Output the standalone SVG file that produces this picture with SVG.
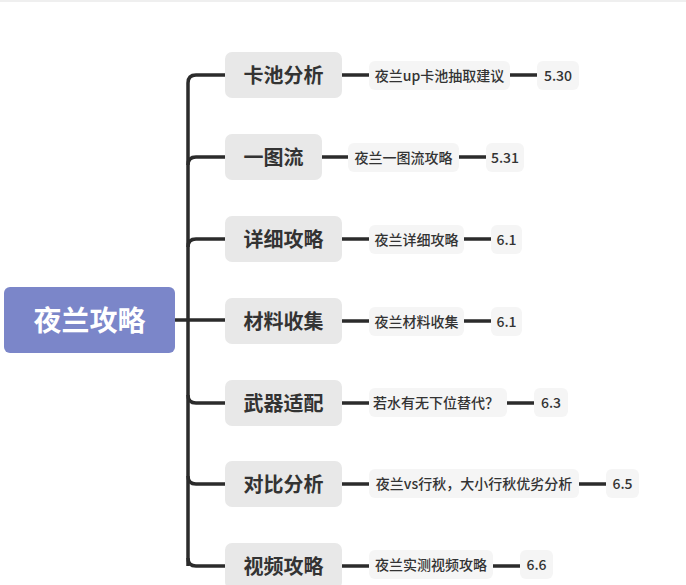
<svg xmlns="http://www.w3.org/2000/svg" width="686" height="585" viewBox="0 0 686 585">
<style>
.ln{fill:none;stroke:#2b2b2b;stroke-width:3.5;stroke-linecap:butt}
.l1 rect{fill:#e8e8e8}
.l2 rect{fill:#f5f5f5}
text{font-family:"Noto Sans CJK SC","Noto Sans",sans-serif;fill:#333;text-anchor:middle;dominant-baseline:central}
.l1 text{font-size:20px;font-weight:700}
.l2 text{font-size:14px;font-weight:500}
.root text{font-size:28px;font-weight:700;fill:#fff}
</style>
<rect x="0" y="0" width="686" height="585" fill="#fff"/>
<rect x="0" y="0" width="686" height="2" fill="#efefef"/>
<g id="connectors">
<path class="ln" d="M175,320 H226"/>
<path class="ln" d="M188,566 V83 Q188,75 196,75 H226"/>
<path class="ln" d="M196,566 Q188,566 188,558"/>
<path class="ln" d="M188,165 Q188,157 196,157 H226"/>
<path class="ln" d="M188,247 Q188,239 196,239 H226"/>
<path class="ln" d="M188,395 Q188,403 196,403 H226"/>
<path class="ln" d="M188,476 Q188,484 196,484 H226"/>
<path class="ln" d="M196,566 H226"/>
<path class="ln" d="M342,75 H369 M510,75 H537"/>
<path class="ln" d="M322,157 H348 M459,157 H486"/>
<path class="ln" d="M342,239 H369 M464,239 H491"/>
<path class="ln" d="M342,321 H369 M464,321 H491"/>
<path class="ln" d="M342,403 H369 M507,403 H534"/>
<path class="ln" d="M342,484 H369 M579,484 H606"/>
<path class="ln" d="M342,566 H369 M493,566 H520"/>
</g>
<g id="root" class="root"><rect x="4" y="287" width="171" height="66" rx="6" fill="#7b86c9"/><text x="89.5" y="319">夜兰攻略</text></g>
<g id="n1" class="l1"><rect x="225" y="52" width="117" height="46" rx="7"/><text x="283.5" y="74">卡池分析</text></g>
<g id="n2" class="l1"><rect x="225" y="134" width="97" height="46" rx="7"/><text x="273.5" y="156">一图流</text></g>
<g id="n3" class="l1"><rect x="225" y="216" width="117" height="46" rx="7"/><text x="283.5" y="238">详细攻略</text></g>
<g id="n4" class="l1"><rect x="225" y="298" width="117" height="46" rx="7"/><text x="283.5" y="320">材料收集</text></g>
<g id="n5" class="l1"><rect x="225" y="380" width="117" height="46" rx="7"/><text x="283.5" y="402">武器适配</text></g>
<g id="n6" class="l1"><rect x="225" y="461" width="117" height="46" rx="7"/><text x="283.5" y="483">对比分析</text></g>
<g id="n7" class="l1"><rect x="225" y="543" width="117" height="46" rx="7"/><text x="283.5" y="565">视频攻略</text></g>
<g id="c1" class="l2"><rect x="369" y="61" width="141" height="29" rx="6"/><text x="439.5" y="75">夜兰up卡池抽取建议</text></g>
<g id="d1" class="l2"><rect x="537" y="61" width="42" height="29" rx="6"/><text x="558" y="75">5.30</text></g>
<g id="c2" class="l2"><rect x="348" y="143" width="111" height="29" rx="6"/><text x="403.5" y="157">夜兰一图流攻略</text></g>
<g id="d2" class="l2"><rect x="486" y="143" width="38" height="29" rx="6"/><text x="505" y="157">5.31</text></g>
<g id="c3" class="l2"><rect x="369" y="225" width="95" height="29" rx="6"/><text x="416.5" y="239">夜兰详细攻略</text></g>
<g id="d3" class="l2"><rect x="491" y="225" width="31" height="29" rx="6"/><text x="506.5" y="239">6.1</text></g>
<g id="c4" class="l2"><rect x="369" y="307" width="95" height="29" rx="6"/><text x="416.5" y="321">夜兰材料收集</text></g>
<g id="d4" class="l2"><rect x="491" y="307" width="31" height="29" rx="6"/><text x="506.5" y="321">6.1</text></g>
<g id="c5" class="l2"><rect x="369" y="388" width="138" height="29" rx="6"/><text x="436" y="402">若水有无下位替代？</text></g>
<g id="d5" class="l2"><rect x="534" y="388" width="34" height="29" rx="6"/><text x="551" y="402">6.3</text></g>
<g id="c6" class="l2"><rect x="369" y="469" width="210" height="29" rx="6"/><text x="474" y="483">夜兰vs行秋，大小行秋优劣分析</text></g>
<g id="d6" class="l2"><rect x="606" y="469" width="33" height="29" rx="6"/><text x="622.5" y="483">6.5</text></g>
<g id="c7" class="l2"><rect x="369" y="550" width="124" height="29" rx="6"/><text x="431" y="564">夜兰实测视频攻略</text></g>
<g id="d7" class="l2"><rect x="520" y="550" width="33" height="29" rx="6"/><text x="536.5" y="564">6.6</text></g>
</svg>
